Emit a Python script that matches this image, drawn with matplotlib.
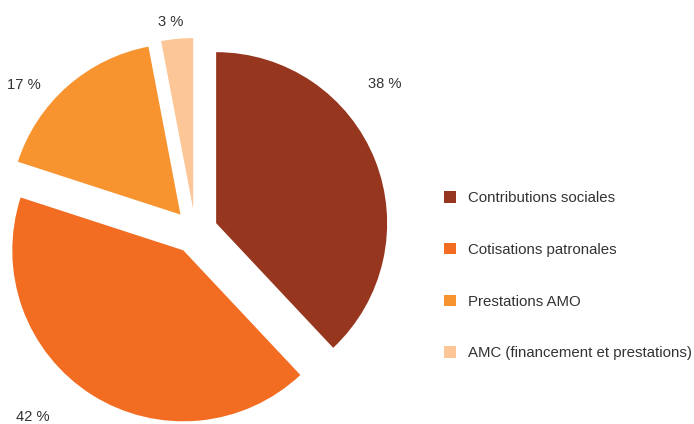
import matplotlib.pyplot as plt

labels = ["Contributions sociales", "Cotisations patronales",
          "Prestations AMO", "AMC (financement et prestations)"]
values = [38, 42, 17, 3]
colors = ["#96361E", "#F26C22", "#F79430", "#FCC696"]

plt.rcParams["font.family"] = ["Liberation Sans", "DejaVu Sans"]

W, H = 694, 424
fig = plt.figure(figsize=(W / 100, H / 100), dpi=100)
ax = fig.add_axes([0, 0, 1, 1])

# pie in pixel units, every slice pulled out by the same distance
R = 171
cx, cy = 195.3, H - 231.4
wedges, _ = ax.pie(values, colors=colors, startangle=90, counterclock=False,
                   radius=R, center=(cx, cy), explode=[22.4] * 4,
                   wedgeprops=dict(linewidth=0))

# percentage labels around the pie
label_pos = [(385, 84), (33, 417), (24, 85), (171, 22)]
for v, (x, y) in zip(values, label_pos):
    ax.text(x, H - y, f"{v} %", ha="center", va="center",
            fontsize=10.6, color="#333333")

ax.set_xlim(0, W)
ax.set_ylim(0, H)
ax.set_aspect("equal")
ax.axis("off")

leg = ax.legend(wedges, labels, loc="upper left",
                bbox_to_anchor=(444 / W, 1 - 191 / H),
                frameon=False, fontsize=10.8, handlelength=0.8,
                handleheight=0.8, handletextpad=0.8, labelspacing=2.52,
                borderaxespad=0, borderpad=0)
for t in leg.get_texts():
    t.set_color("#333333")

fig.savefig("out.png", dpi=100)
